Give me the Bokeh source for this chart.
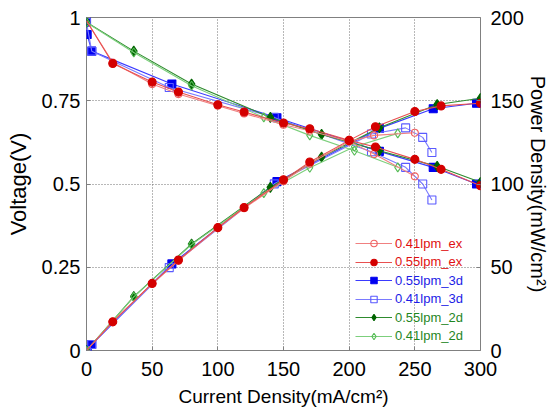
from bokeh.plotting import figure
from bokeh.models import Range1d, LinearAxis, FixedTicker, Legend, LegendItem
from bokeh.embed import file_html
from bokeh.resources import INLINE

# ---- data ----
ex041_i = [0, 20, 50, 70, 100, 120, 150, 170, 200, 219, 250]
ex041_v = [0.99, 0.865, 0.80, 0.77, 0.735, 0.712, 0.678, 0.66, 0.628, 0.59, 0.523]
ex041_p = [0, 17.3, 40.0, 53.9, 73.5, 85.4, 101.7, 112.2, 125.6, 129.2, 130.8]

ex055_i = [0, 20, 50, 70, 100, 120, 150, 170, 200, 220, 250, 270, 300]
ex055_v = [0.99, 0.862, 0.806, 0.776, 0.738, 0.716, 0.683, 0.666, 0.631, 0.611, 0.574, 0.544, 0.495]
ex055_p = [0, 17.2, 40.3, 54.3, 73.8, 85.9, 102.5, 113.2, 126.2, 134.4, 143.5, 146.9, 148.5]

d3055_i = [0, 0.5, 4, 65, 145, 223, 264, 297]
d3055_v = [0.989, 0.949, 0.899, 0.80, 0.699, 0.598, 0.55, 0.50]
d3055_p = [0, 0.5, 3.6, 52.0, 101.4, 133.4, 145.2, 148.5]

d3041_i = [0, 4, 63, 143, 217, 243, 256, 263]
d3041_v = [0.985, 0.899, 0.79, 0.70, 0.597, 0.55, 0.50, 0.452]
d3041_p = [0, 3.6, 49.8, 100.1, 130.0, 133.7, 128.0, 118.9]

d2055_i = [0, 36, 80, 140, 179, 223, 267, 300]
d2055_v = [0.986, 0.899, 0.80, 0.70, 0.649, 0.60, 0.553, 0.505]
d2055_p = [0, 32.4, 64.0, 98.0, 116.2, 133.8, 147.7, 151.5]

d2041_i = [0, 36, 80, 135, 170, 204, 237]
d2041_v = [0.985, 0.895, 0.795, 0.70, 0.646, 0.60, 0.55]
d2041_p = [0, 32.2, 63.6, 94.5, 109.8, 122.4, 130.4]

x_ticks = [0, 50, 100, 150, 200, 250, 300]
v_ticks = [0, 0.25, 0.5, 0.75, 1]
v_tick_labels = ["0", "0.25", "0.5", "0.75", "1"]
p_ticks = [0, 50, 100, 150, 200]

FONT = "Liberation Sans"

p = figure(frame_width=394, frame_height=333, output_backend="svg", toolbar_location=None,
           x_range=Range1d(0, 300), y_range=Range1d(0, 1),
           min_border_left=86, min_border_right=10, min_border_top=17, min_border_bottom=10)
p.extra_y_ranges = {"pd": Range1d(0, 200)}
p.background_fill_color = "white"
p.border_fill_color = "white"
p.outline_line_color = "#808080"
p.outline_line_width = 1

right = LinearAxis(y_range_name="pd")
p.add_layout(right, "right")

for ax in [p.xaxis[0], p.yaxis[0], right]:
    ax.axis_line_color = None
    ax.major_tick_in = 4
    ax.major_tick_out = 0
    ax.major_tick_line_color = "#808080"
    ax.minor_tick_line_color = None
    ax.major_label_text_font = FONT
    ax.major_label_text_font_size = "20px"
    ax.major_label_text_color = "black"
    ax.axis_label_text_font = FONT
    ax.axis_label_text_font_style = "normal"
    ax.axis_label_text_color = "black"

p.xaxis.ticker = FixedTicker(ticks=x_ticks)
p.yaxis[0].ticker = FixedTicker(ticks=v_ticks)
p.yaxis[0].major_label_overrides = {t: l for t, l in zip(v_ticks, v_tick_labels)}
right.ticker = FixedTicker(ticks=p_ticks)

p.xaxis.axis_label = "Current Density(mA/cm\u00b2)"
p.xaxis.axis_label_text_font_size = "19px"
p.xaxis.major_label_standoff = 11
p.xaxis.axis_label_standoff = 7
p.yaxis[0].axis_label = "Voltage(V)"
p.yaxis[0].axis_label_text_font_size = "22px"
p.yaxis[0].major_label_standoff = 6
p.yaxis[0].axis_label_standoff = 8
right.axis_label = "Power Density(mW/cm\u00b2)"
right.axis_label_text_font_size = "20px"
right.major_label_standoff = 10
right.axis_label_standoff = 0

p.xgrid.grid_line_color = "#707070"
p.xgrid.grid_line_dash = "1 2"
p.ygrid.grid_line_color = "#707070"
p.ygrid.grid_line_dash = "1 2"
p.xgrid.ticker = FixedTicker(ticks=x_ticks[1:-1])
p.ygrid.ticker = FixedTicker(ticks=v_ticks[1:-1])

series = [
    ("0.55lpm_3d", d3055_i, d3055_v, d3055_p, "square", 8, "#3a3aff", "#0000f0", "#0000f0", "#1c1ce6", 0),
    ("0.41lpm_3d", d3041_i, d3041_v, d3041_p, "square", 8, "#7a7aff", "#5a5aff", None, "#1c1ce6", 0),
    ("0.55lpm_2d", d2055_i, d2055_v, d2055_p, "diamond", 10, "#2e8b2e", "#006400", "#006400", "#1f861f", 0),
    ("0.41lpm_2d", d2041_i, d2041_v, d2041_p, "diamond", 9, "#7ccf7c", "#55bb55", None, "#1f861f", 0),
    ("0.41lpm_ex", ex041_i, ex041_v, ex041_p, "circle", 7, "#f08080", "#f06060", None, "#e01010", 1),
    ("0.55lpm_ex", ex055_i, ex055_v, ex055_p, "circle", 8, "#e85050", "#d40000", "#d40000", "#e01010", 1),
]

legend_items = {}
for name, xi, vv, pp, mk, sz, lc, mlc, mfc, tc, skip in series:
    lv = p.line(xi, vv, line_color=lc, line_width=1.1)
    lp = p.line(xi, pp, line_color=lc, line_width=1.1, y_range_name="pd")
    kw = dict(marker=mk, size=sz, line_color=mlc, line_width=1.1)
    kw["fill_color"] = mfc
    sv = p.scatter(xi[skip:], vv[skip:], **kw)
    sp = p.scatter(xi[skip:], pp[skip:], y_range_name="pd", **kw)
    legend_items[name] = (lv, sv, tc)

legend_order = ["0.41lpm_ex", "0.55lpm_ex", "0.55lpm_3d", "0.41lpm_3d", "0.55lpm_2d", "0.41lpm_2d"]
for k, name in enumerate(legend_order):
    lv, sv, tc = legend_items[name]
    leg = Legend(items=[LegendItem(label=name, renderers=[lv, sv])],
                 location=(269, 99 - k * 18.5),
                 padding=0, margin=0, spacing=0,
                 glyph_width=37, glyph_height=16, label_height=16, label_standoff=3,
                 background_fill_alpha=0, border_line_alpha=0,
                 label_text_font=FONT, label_text_font_size="13px",
                 label_text_color=tc)
    p.add_layout(leg, "center")

open("out.html", "w").write(file_html(p, INLINE))
